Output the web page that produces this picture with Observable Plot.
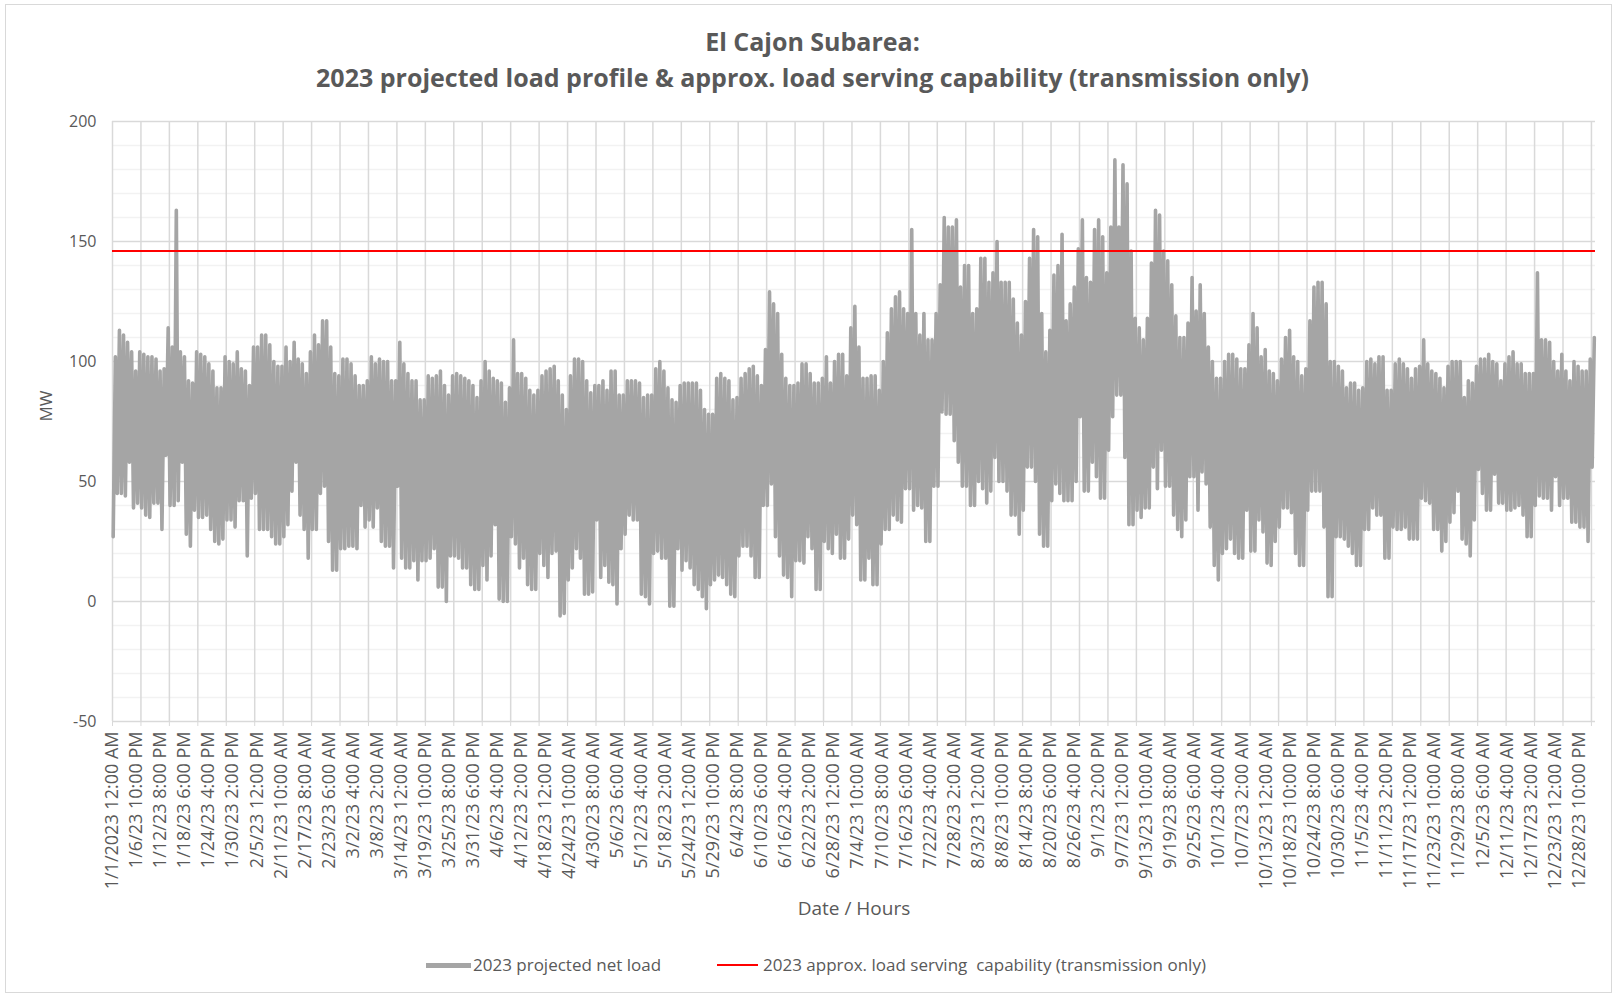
<!DOCTYPE html>
<html><head><meta charset="utf-8">
<script src="https://cdn.jsdelivr.net/npm/d3@7"></script>
<script src="https://cdn.jsdelivr.net/npm/@observablehq/plot@0.6"></script>
<style>
body{margin:0;background:#fff;font-family:"Open Sans",sans-serif;width:1617px;height:995px;overflow:hidden;position:relative;}
#frame{position:absolute;left:5px;top:4px;width:1607px;height:989px;border:1px solid #d9d9d9;box-sizing:border-box;}
#title{position:absolute;left:4px;top:24px;width:1617px;text-align:center;color:#595959;font-weight:700;font-size:25px;line-height:35.5px;}
#chart{position:absolute;left:0;top:100px;}
.leg{position:absolute;top:953px;font-size:17px;color:#595959;line-height:24px;white-space:pre;}
.sw{position:absolute;height:0;}
</style>
</head><body>
<div id="frame"></div>
<div id="title"></div>
<div id="chart"></div>
<div id="legend"></div>
<script>
const titleLines = ["El Cajon Subarea:", "2023 projected load profile & approx. load serving capability (transmission only)"];
const seriesNames = ["2023 projected net load", "2023 approx. load serving  capability (transmission only)"];
const yLabel = "MW";
const xLabel = "Date / Hours";
const capabilityMW = 146;
const yTicks = [-50, 0, 50, 100, 150, 200];
const hoursInYear = 8760;
const labelEveryHours = 142;
const gridEveryHours = 168;
const xLabels = ["1/1/2023 12:00 AM","1/6/23 10:00 PM","1/12/23 8:00 PM","1/18/23 6:00 PM","1/24/23 4:00 PM","1/30/23 2:00 PM","2/5/23 12:00 PM","2/11/23 10:00 AM","2/17/23 8:00 AM","2/23/23 6:00 AM","3/2/23 4:00 AM","3/8/23 2:00 AM","3/14/23 12:00 AM","3/19/23 10:00 PM","3/25/23 8:00 PM","3/31/23 6:00 PM","4/6/23 4:00 PM","4/12/23 2:00 PM","4/18/23 12:00 PM","4/24/23 10:00 AM","4/30/23 8:00 AM","5/6/23 6:00 AM","5/12/23 4:00 AM","5/18/23 2:00 AM","5/24/23 12:00 AM","5/29/23 10:00 PM","6/4/23 8:00 PM","6/10/23 6:00 PM","6/16/23 4:00 PM","6/22/23 2:00 PM","6/28/23 12:00 PM","7/4/23 10:00 AM","7/10/23 8:00 AM","7/16/23 6:00 AM","7/22/23 4:00 AM","7/28/23 2:00 AM","8/3/23 12:00 AM","8/8/23 10:00 PM","8/14/23 8:00 PM","8/20/23 6:00 PM","8/26/23 4:00 PM","9/1/23 2:00 PM","9/7/23 12:00 PM","9/13/23 10:00 AM","9/19/23 8:00 AM","9/25/23 6:00 AM","10/1/23 4:00 AM","10/7/23 2:00 AM","10/13/23 12:00 AM","10/18/23 10:00 PM","10/24/23 8:00 PM","10/30/23 6:00 PM","11/5/23 4:00 PM","11/11/23 2:00 PM","11/17/23 12:00 PM","11/23/23 10:00 AM","11/29/23 8:00 AM","12/5/23 6:00 AM","12/11/23 4:00 AM","12/17/23 2:00 AM","12/23/23 12:00 AM","12/28/23 10:00 PM"];

// daily peak (MW), Jan 1 .. Dec 31
const dailyMax = [102,113,111,108,104,96,104,103,102,102,101,96,97,114,106,163,104,102,92,91,104,103,102,99,96,89,89,102,100,99,104,97,96,90,106,
106,111,111,107,100,98,98,106,100,108,101,99,95,104,111,107,117,117,106,95,94,101,101,99,94,90,90,92,102,99,101,100,100,92,92,108,
99,95,92,92,84,84,94,93,94,96,90,86,94,95,94,93,92,90,85,92,100,96,93,92,91,83,89,109,95,95,93,88,86,88,94,
96,97,98,92,86,80,94,101,101,100,92,87,90,90,92,88,96,96,86,86,92,92,92,91,85,86,86,97,100,96,89,84,83,90,91,91,
91,91,88,80,78,78,93,95,93,92,84,85,93,95,97,98,94,90,105,129,124,120,103,93,90,90,91,99,99,95,91,91,93,102,91,100,
103,103,94,114,123,106,93,93,94,94,88,100,112,122,127,129,122,120,155,120,111,120,109,109,120,132,160,156,156,159,131,140,140,120,122,143,
143,133,137,150,133,133,133,126,116,111,125,143,155,152,120,104,113,136,140,153,117,124,131,147,159,135,133,155,159,152,137,156,184,156,182,174,
146,118,114,109,118,141,163,161,146,142,132,119,110,110,116,135,121,132,120,106,100,93,93,100,103,103,101,97,97,107,120,114,102,105,96,
95,92,101,110,113,102,100,94,97,117,131,133,133,124,100,100,98,96,89,91,91,88,89,100,101,99,102,102,88,88,99,101,99,97,93,97,
98,109,99,96,95,93,89,98,100,100,100,85,92,91,98,101,101,103,100,99,92,99,102,104,99,99,95,95,95,137,109,109,108,100,96,103,96,92,100,98,96,96,101,110];

// daily minimum (MW), Jan 1 .. Dec 31
const dailyMin = [27,45,45,44,58,39,41,39,36,35,41,41,30,61,40,40,42,58,28,23,38,35,35,36,30,25,24,26,34,34,31,42,42,19,43,
45,30,30,30,27,24,24,27,32,46,58,36,30,18,30,30,45,48,25,13,13,22,22,23,23,22,40,31,34,31,39,25,23,23,14,48,
18,14,14,17,9,17,17,18,22,6,6,0,19,19,18,14,14,7,5,5,15,9,19,32,1,0,0,27,24,14,18,7,5,5,20,
15,10,20,21,-6,-5,9,14,22,18,3,3,4,34,10,15,8,7,-1,22,28,36,34,34,3,2,-1,20,21,18,18,-2,-2,22,13,17,
14,7,5,2,-3,7,9,11,10,7,3,2,19,23,23,19,10,10,40,40,49,27,19,11,10,2,17,17,16,27,22,5,5,25,22,20,
28,18,18,26,36,32,9,9,18,7,7,24,30,30,36,34,33,47,47,38,40,39,25,25,48,48,79,78,78,67,58,48,48,40,40,50,
47,41,46,60,50,50,46,36,36,28,38,56,56,50,28,23,23,42,49,45,42,42,42,50,77,46,46,58,52,43,43,63,77,86,86,60,
32,32,38,35,39,39,56,47,63,48,48,36,30,27,34,52,52,38,54,49,31,15,9,20,22,26,20,18,18,38,21,21,34,29,16,
15,25,31,39,39,37,20,15,15,38,46,46,46,31,2,2,27,27,26,23,20,15,15,30,30,39,36,36,18,18,31,30,30,31,26,26,
26,43,42,41,30,30,21,25,33,37,46,26,24,19,34,55,45,38,38,53,41,41,38,38,39,40,36,27,27,40,44,43,43,38,52,40,43,43,33,33,31,31,25,56];

// title
document.getElementById("title").innerHTML = titleLines.map(t => `<div>${t.replace("&","&amp;")}</div>`).join("");

// hourly-style trace: each day's low (early morning) and peak (evening)
const load = [];
dailyMax.forEach((mx, d) => {
  load.push({hour: d * 24 + 4, mw: dailyMin[d]});
  load.push({hour: d * 24 + 17, mw: mx});
});

const labelHours = xLabels.map((_, i) => i * labelEveryHours);
const labelMap = new Map(labelHours.map((h, i) => [h, xLabels[i]]));
const gridHours = d3.range(0, hoursInYear, gridEveryHours);
const minorY = d3.range(-50, 201, 10).filter(v => v % 50 !== 0);

const chart = Plot.plot({
  width: 1617,
  height: 830,
  marginLeft: 112,
  marginRight: 22,
  marginTop: 21,
  marginBottom: 209,
  style: {fontFamily: "'Open Sans', sans-serif", fontSize: "16px", color: "#595959", background: "transparent", overflow: "visible"},
  x: {domain: [0, hoursInYear], axis: null, label: null},
  y: {domain: [-50, 200], axis: null, label: null},
  marks: [
    Plot.ruleY(minorY, {stroke: "#f2f2f2", strokeWidth: 1.5}),
    Plot.ruleX(gridHours, {stroke: "#d9d9d9", strokeWidth: 1.5}),
    Plot.ruleY(yTicks, {stroke: "#d9d9d9", strokeWidth: 1.5}),
    Plot.axisX({ticks: gridHours, tickSize: 5, tickFormat: () => "", stroke: "#d9d9d9", label: null}),
    Plot.axisX({ticks: labelHours, tickSize: 0, tickPadding: 10, tickRotate: -90, tickFormat: d => labelMap.get(d), fontSize: 18, fill: "#595959", label: null}),
    Plot.axisY({ticks: yTicks, tickSize: 0, tickPadding: 16, tickFormat: d => String(d), fontSize: 16, fill: "#595959", label: null}),
    Plot.line(load, {x: "hour", y: "mw", stroke: "#a5a5a5", strokeWidth: 3.6, strokeLinejoin: "round", strokeLinecap: "round"}),
    Plot.ruleY([capabilityMW], {stroke: "#ff0000", strokeWidth: 2}),
    Plot.text([yLabel], {frameAnchor: "left", dx: -66, rotate: -90, fontSize: 17, fill: "#595959"}),
    Plot.text([xLabel], {frameAnchor: "bottom", dy: 193, fontSize: 19, fill: "#595959"})
  ]
});
document.getElementById("chart").appendChild(chart);

// legend
const legend = document.getElementById("legend");
const items = [
  {name: seriesNames[0], color: "#a5a5a5", w: 5, x0: 426, x1: 471, tx: 473},
  {name: seriesNames[1], color: "#ff0000", w: 2, x0: 717, x1: 758, tx: 763}
];
items.forEach(it => {
  const sw = document.createElement("div");
  sw.className = "sw";
  sw.style.left = it.x0 + "px";
  sw.style.width = (it.x1 - it.x0) + "px";
  sw.style.top = (965 - it.w / 2) + "px";
  sw.style.borderTop = `${it.w}px solid ${it.color}`;
  legend.appendChild(sw);
  const t = document.createElement("div");
  t.className = "leg";
  t.style.left = it.tx + "px";
  t.textContent = it.name;
  legend.appendChild(t);
});
</script>
</body></html>
